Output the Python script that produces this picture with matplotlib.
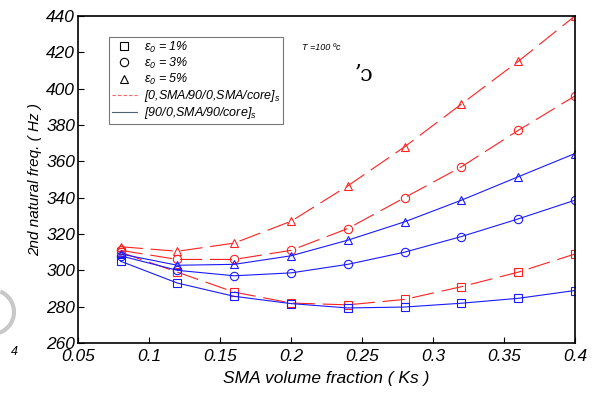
import matplotlib
matplotlib.use('Agg')
import matplotlib.pyplot as plt
from matplotlib.lines import Line2D
from matplotlib.patches import Arc

ks = [0.08, 0.12, 0.16, 0.20, 0.24, 0.28, 0.32, 0.36, 0.40]

# red dashed: [0,SMA/90/0,SMA/core]s
red_e1 = [310, 299, 288, 282, 281, 284, 291, 299, 309]
red_e3 = [311, 306, 306, 311, 323, 340, 357, 377, 396]
red_e5 = [313, 310.5, 315, 327, 346.5, 368, 391.5, 415, 440]

# blue solid: [90/0,SMA/90/core]s
blue_e1 = [305, 293, 285.7, 281.7, 279.3, 279.8, 281.9, 284.6, 288.9]
blue_e3 = [308, 300, 297, 298.6, 303.3, 310, 318.6, 328.3, 338.6]
blue_e5 = [309, 302.8, 303.3, 308, 316.6, 326.7, 338.6, 351.5, 364.3]

xticks = [0.05, 0.1, 0.15, 0.2, 0.25, 0.3, 0.35, 0.4]
xticklabels = ['0.05', '0.1', '0.15', '0.2', '0.25', '0.3', '0.35', '0.4']
yticks = [260, 280, 300, 320, 340, 360, 380, 400, 420, 440]

plt.rcParams['font.family'] = ['Liberation Sans', 'DejaVu Sans']
plt.rcParams['font.style'] = 'italic'
plt.rcParams['mathtext.fontset'] = 'custom'
plt.rcParams['mathtext.it'] = 'Liberation Sans:italic'
plt.rcParams['mathtext.rm'] = 'Liberation Sans:italic'

fig = plt.figure(figsize=(6.01, 3.93), dpi=100)
ax = fig.add_axes([0.1298, 0.1272, 0.8269, 0.8321])

mk = dict(markersize=6, markerfacecolor='none', markeredgewidth=0.8)
for y, m in [(red_e1, 's'), (red_e3, 'o'), (red_e5, '^')]:
    ax.plot(ks, y, color='#ff2020', lw=0.8, marker=m, dashes=(20, 7), **mk)
for y, m in [(blue_e1, 's'), (blue_e3, 'o'), (blue_e5, '^')]:
    ax.plot(ks, y, color='#1a1aff', lw=0.8, marker=m, **mk)

ax.set_xlim(0.05, 0.4)
ax.set_ylim(260, 440)
ax.set_xticks(xticks)
ax.set_xticklabels(xticklabels)
ax.set_yticks(yticks)
ax.tick_params(direction='in', labelsize=12.5, length=4, width=0.8)
ax.tick_params(axis='x', pad=4.5)
ax.tick_params(axis='y', pad=2)
for s in ax.spines.values():
    s.set_linewidth(1.2)
ax.set_xlabel('SMA volume fraction ( Ks )', fontsize=12.5, labelpad=5)
ax.set_ylabel('2nd natural freq. ( Hz )', fontsize=11, labelpad=3)

handles = [
    Line2D([], [], ls='none', marker='s', color='k', **mk),
    Line2D([], [], ls='none', marker='o', color='k', **mk),
    Line2D([], [], ls='none', marker='^', color='k', **mk),
    Line2D([], [], color='#ff6060', lw=0.8, dashes=(3, 2)),
    Line2D([], [], color='#506070', lw=0.8),
]
labels = [r'$\varepsilon_0$ = 1%', r'$\varepsilon_0$ = 3%', r'$\varepsilon_0$ = 5%',
          r'[0,SMA/90/0,SMA/core]$_s$', r'[90/0,SMA/90/core]$_s$']
leg = ax.legend(handles, labels, loc='upper left', bbox_to_anchor=(0.063, 0.935),
                fontsize=9, frameon=True, fancybox=False, edgecolor='#555555',
                handlelength=2.0, handletextpad=0.6, labelspacing=0.08,
                borderpad=0.2, borderaxespad=0)
leg.get_frame().set_linewidth(0.8)

ax.text(0.45, 0.895, 'T =100 \u00bac', transform=ax.transAxes, fontsize=6.5)
ax.text(0.555, 0.80, '\u02bc\u0254', transform=ax.transAxes, fontsize=16,
        family='DejaVu Serif', style='normal')

fig.text(14 / 601, 1 - 352 / 393, '4', fontsize=9, ha='center', va='center')
fig.add_artist(Arc((-8 / 601, 1 - 312 / 393), 44 / 601, 44 / 393,
                   theta1=-80, theta2=75, color='#c8c8c8', lw=3,
                   transform=fig.transFigure))

fig.savefig('out.png', dpi=100)
